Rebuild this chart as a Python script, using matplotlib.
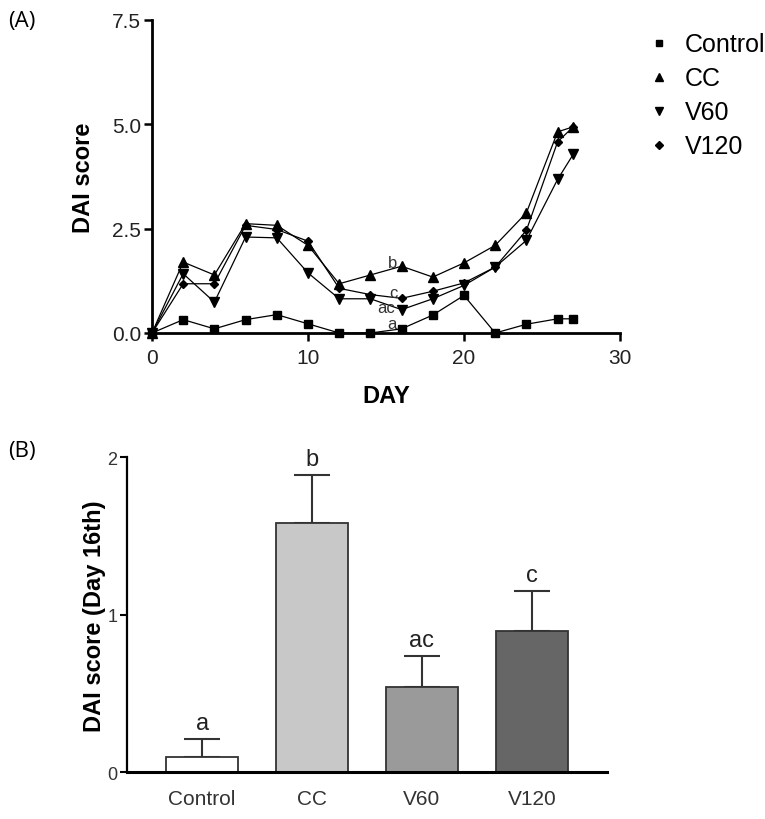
import matplotlib
matplotlib.use('Agg')
import matplotlib.pyplot as plt
from matplotlib.lines import Line2D

plt.rcParams['font.family'] = ['Liberation Sans', 'DejaVu Sans']

# ---- Panel A data ----
days = [0, 2, 4, 6, 8, 10, 12, 14, 16, 18, 20, 22, 24, 26, 27]
control = [0, 0.32, 0.10, 0.32, 0.44, 0.22, 0, 0, 0.10, 0.43, 0.90, 0, 0.21, 0.34, 0.34]
cc = [0, 1.70, 1.39, 2.62, 2.58, 2.10, 1.18, 1.39, 1.60, 1.34, 1.68, 2.10, 2.88, 4.82, 4.94]
v60 = [0, 1.42, 0.74, 2.30, 2.28, 1.44, 0.82, 0.82, 0.56, 0.82, 1.14, 1.58, 2.22, 3.68, 4.28]
v120 = [0, 1.18, 1.18, 2.58, 2.48, 2.20, 1.07, 0.92, 0.83, 1.00, 1.20, 1.58, 2.46, 4.58, 4.94]
series_names = ['Control', 'CC', 'V60', 'V120']
line_letters = ['a', 'b', 'ac', 'c']
x_ticks_a = [0, 10, 20, 30]
y_ticks_a = [0.0, 2.5, 5.0, 7.5]

# ---- Panel B data ----
groups = ['Control', 'CC', 'V60', 'V120']
means = [0.10, 1.58, 0.54, 0.90]
sems = [0.11, 0.31, 0.20, 0.25]
bar_letters = ['a', 'b', 'ac', 'c']
bar_colors = ['#ffffff', '#c8c8c8', '#9a9a9a', '#666666']
y_ticks_b = [0, 1, 2]

W, H = 765, 820
fig = plt.figure(figsize=(W / 100, H / 100), dpi=100)

def fx(px):
    return px / W

def fy(py):
    return 1 - py / H

# ---------------- Panel A ----------------
axA = fig.add_axes([fx(152), fy(334), fx(620) - fx(152), fy(21) - fy(334)])
markers = ['s', '^', 'v', 'D']
msizes = [6, 6.5, 6.5, 4.5]
data = [control, cc, v60, v120]
for vals, m, ms in zip(data, markers, msizes):
    axA.plot(days, vals, color='black', lw=0.9, marker=m, ms=ms, mfc='black', mec='black',
             clip_on=False, zorder=3)

axA.set_xlim(0, 30)
axA.set_ylim(0, 7.5)
axA.set_xticks(x_ticks_a)
axA.set_yticks(y_ticks_a)
axA.set_yticklabels([f'{v:.1f}' for v in y_ticks_a])
for s in ['top', 'right']:
    axA.spines[s].set_visible(False)
for s in ['left', 'bottom']:
    axA.spines[s].set_linewidth(2.0)
axA.tick_params(axis='both', direction='out', length=6, width=1.8, labelsize=15, pad=2,
                labelcolor='#222222')
axA.tick_params(axis='x', pad=5)
axA.set_xlabel('DAY', fontsize=17, fontweight='bold', labelpad=12)
axA.set_ylabel('DAI score', fontsize=17, fontweight='bold', labelpad=12)

# letters near day 16
i16 = days.index(16)
ann = {'a': (control[i16], 0.12), 'b': (cc[i16], 0.10), 'ac': (v60[i16], 0.05), 'c': (v120[i16], 0.14)}
ann_x = {'a': 15.4, 'b': 15.4, 'ac': 15.0, 'c': 15.5}
for k, (v, off) in ann.items():
    axA.text(ann_x[k], v + off, k, fontsize=12, color='#333333', ha='center', va='center', zorder=4)

handles = [Line2D([], [], ls='none', marker=m, ms=ms * 0.8, color='black') for m, ms in zip(markers, msizes)]
fig.legend(handles, series_names, loc='upper left', bbox_to_anchor=(fx(634), fy(21)),
           frameon=False, fontsize=18, handlelength=1.0, handletextpad=0.55,
           labelspacing=0.4, borderpad=0)

# ---------------- Panel B ----------------
axB = fig.add_axes([fx(127.3), fy(773.3), fx(606.7) - fx(127.3), fy(458.3) - fy(773.3)])
xpos = list(range(len(groups)))
axB.bar(xpos, means, width=0.66, color=bar_colors, edgecolor='#333333', linewidth=1.3, zorder=2)
axB.errorbar(xpos, means, yerr=[[0] * len(sems), sems], fmt='none', ecolor='#333333',
             elinewidth=1.5, capsize=13, capthick=1.5, zorder=1)
for x, m, s, lt in zip(xpos, means, sems, bar_letters):
    axB.text(x, m + s + 0.1, lt, fontsize=17, color='#222222', ha='center', va='center')

axB.set_xlim(-0.68, 3.68)
axB.set_ylim(0, 2)
axB.set_yticks(y_ticks_b)
axB.set_xticks(xpos)
axB.set_xticklabels(groups)
for s in ['top', 'right']:
    axB.spines[s].set_visible(False)
axB.spines['left'].set_linewidth(1.6)
axB.spines['bottom'].set_linewidth(2.2)
axB.tick_params(axis='y', direction='out', length=5, width=1.5, labelsize=13, pad=2, labelcolor='#333333')
axB.tick_params(axis='x', length=0, labelsize=15, pad=12, labelcolor='#333333')
axB.set_ylabel('DAI score (Day 16th)', fontsize=17, fontweight='bold', labelpad=1)

# panel labels
fig.text(fx(8), fy(22), '(A)', fontsize=16, family=['Open Sans', 'DejaVu Sans'], va='center', ha='left')
fig.text(fx(8), fy(452), '(B)', fontsize=16, family=['Open Sans', 'DejaVu Sans'], va='center', ha='left')

fig.savefig('out.png', dpi=100)
